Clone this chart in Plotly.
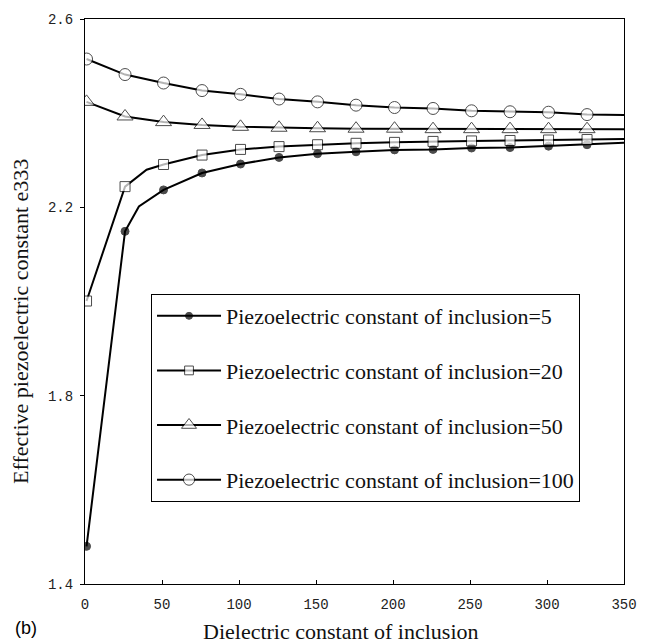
import plotly.graph_objects as go

# ---- data ----
x_base = [1, 26, 51, 76, 101, 126, 151, 176, 201, 226, 251, 276, 301, 326]

# Piezoelectric constant of inclusion = 5 (filled circles)
x_p5 = [1, 26, 35, 51, 76, 101, 126, 151, 176, 201, 226, 251, 276, 301, 326, 350]
y_p5 = [1.48, 2.149, 2.202, 2.237, 2.273, 2.292, 2.306, 2.314, 2.318, 2.322, 2.323, 2.326, 2.327, 2.330, 2.333, 2.337]
show_p5 = [1, 1, 0, 1, 1, 1, 1, 1, 1, 1, 1, 1, 1, 1, 1, 0]

# = 20 (open squares)
x_p20 = [1, 26, 40, 51, 76, 101, 126, 151, 176, 201, 226, 251, 276, 301, 326, 350]
y_p20 = [2.001, 2.244, 2.280, 2.291, 2.311, 2.323, 2.329, 2.333, 2.336, 2.338, 2.340, 2.341, 2.342, 2.343, 2.344, 2.345]
show_p20 = [1, 1, 0, 1, 1, 1, 1, 1, 1, 1, 1, 1, 1, 1, 1, 0]

# = 50 (open triangles)
x_p50 = x_base + [350]
y_p50 = [2.424, 2.393, 2.381, 2.375, 2.371, 2.369, 2.368, 2.367, 2.367, 2.366, 2.366, 2.366, 2.366, 2.366, 2.366]
show_p50 = [1] * 14 + [0]

# = 100 (open circles)
x_p100 = x_base + [350]
y_p100 = [2.515, 2.482, 2.464, 2.448, 2.440, 2.430, 2.424, 2.417, 2.412, 2.410, 2.405, 2.403, 2.402, 2.397, 2.396]
show_p100 = [1] * 14 + [0]

series_names = [
    "Piezoelectric constant of inclusion=5",
    "Piezoelectric constant of inclusion=20",
    "Piezoelectric constant of inclusion=50",
    "Piezoelectric constant of inclusion=100",
]

x_ticks = [0, 50, 100, 150, 200, 250, 300, 350]
y_ticks = [1.4, 1.8, 2.2, 2.6]

x_title = "Dielectric constant of inclusion"
y_title = "Effective piezoelectric constant e333"
panel_label = "(b)"

# ---- styles ----
styles = [
    dict(symbol="circle", size=8, fill="black"),
    dict(symbol="square", size=10, fill="white"),
    dict(symbol="triangle-up", size=14, fill="white"),
    dict(symbol="circle", size=12, fill="white"),
]

fig = go.Figure()
data = [(x_p5, y_p5, show_p5), (x_p20, y_p20, show_p20),
        (x_p50, y_p50, show_p50), (x_p100, y_p100, show_p100)]
for i, ((xs, ys, sh), name, st) in enumerate(zip(data, series_names, styles)):
    fig.add_trace(go.Scatter(
        x=xs, y=ys, name=name, mode="lines+markers",
        legendgroup=f"g{i}",
        line=dict(color="black", width=2),
        marker=dict(symbol=st["symbol"], size=[st["size"] * s for s in sh],
                    color=st["fill"], line=dict(color="black", width=1)),
    ))

L, R, T, B = 85, 17, 17, 59
W, H = 649, 643
pw, ph = W - L - R, H - T - B

fig.update_layout(
    width=W, height=H,
    margin=dict(l=L, r=R, t=T, b=B),
    paper_bgcolor="white", plot_bgcolor="white",
    showlegend=True,
    legend=dict(
        x=(152 - L) / pw, y=(H - B - 293) / ph, xanchor="left", yanchor="top",
        bgcolor="white", bordercolor="black", borderwidth=1,
        font=dict(family="Liberation Serif", size=22, color="#111"),
        tracegroupgap=23, itemwidth=64,
    ),
    xaxis=dict(
        range=[0, 350], tickvals=x_ticks, ticks="inside", ticklen=4,
        tickcolor="black", showline=True, linecolor="black", linewidth=1,
        mirror=True, showgrid=False, zeroline=False,
        tickfont=dict(family="Liberation Mono", size=14, color="#222"),
        ticklabelstandoff=7,
    ),
    yaxis=dict(
        range=[1.4, 2.6], tickvals=y_ticks, tickformat=".1f", ticks="outside",
        ticklen=4, tickcolor="black", showline=True, linecolor="black",
        linewidth=1, mirror=True, showgrid=False, zeroline=False,
        tickfont=dict(family="Liberation Mono", size=14, color="#222"),
        ticklabelstandoff=4,
    ),
    annotations=[
        dict(text=y_title, xref="paper", yref="paper", x=(20 - L) / pw,
             y=(H - B - 320) / ph, textangle=-90, showarrow=False,
             font=dict(family="Liberation Serif", size=22, color="#111"),
             xanchor="center", yanchor="middle"),
        dict(text=x_title, xref="paper", yref="paper", x=(345 - L) / pw,
             y=(H - B - 632) / ph, showarrow=False,
             font=dict(family="Liberation Serif", size=22, color="#111"),
             xanchor="center", yanchor="middle"),
        dict(text=panel_label, xref="paper", yref="paper", x=(25 - L) / pw,
             y=(H - B - 628) / ph, showarrow=False,
             font=dict(family="Liberation Sans", size=18, color="black"),
             xanchor="center", yanchor="middle"),
    ],
)

fig.write_html("out.html")
